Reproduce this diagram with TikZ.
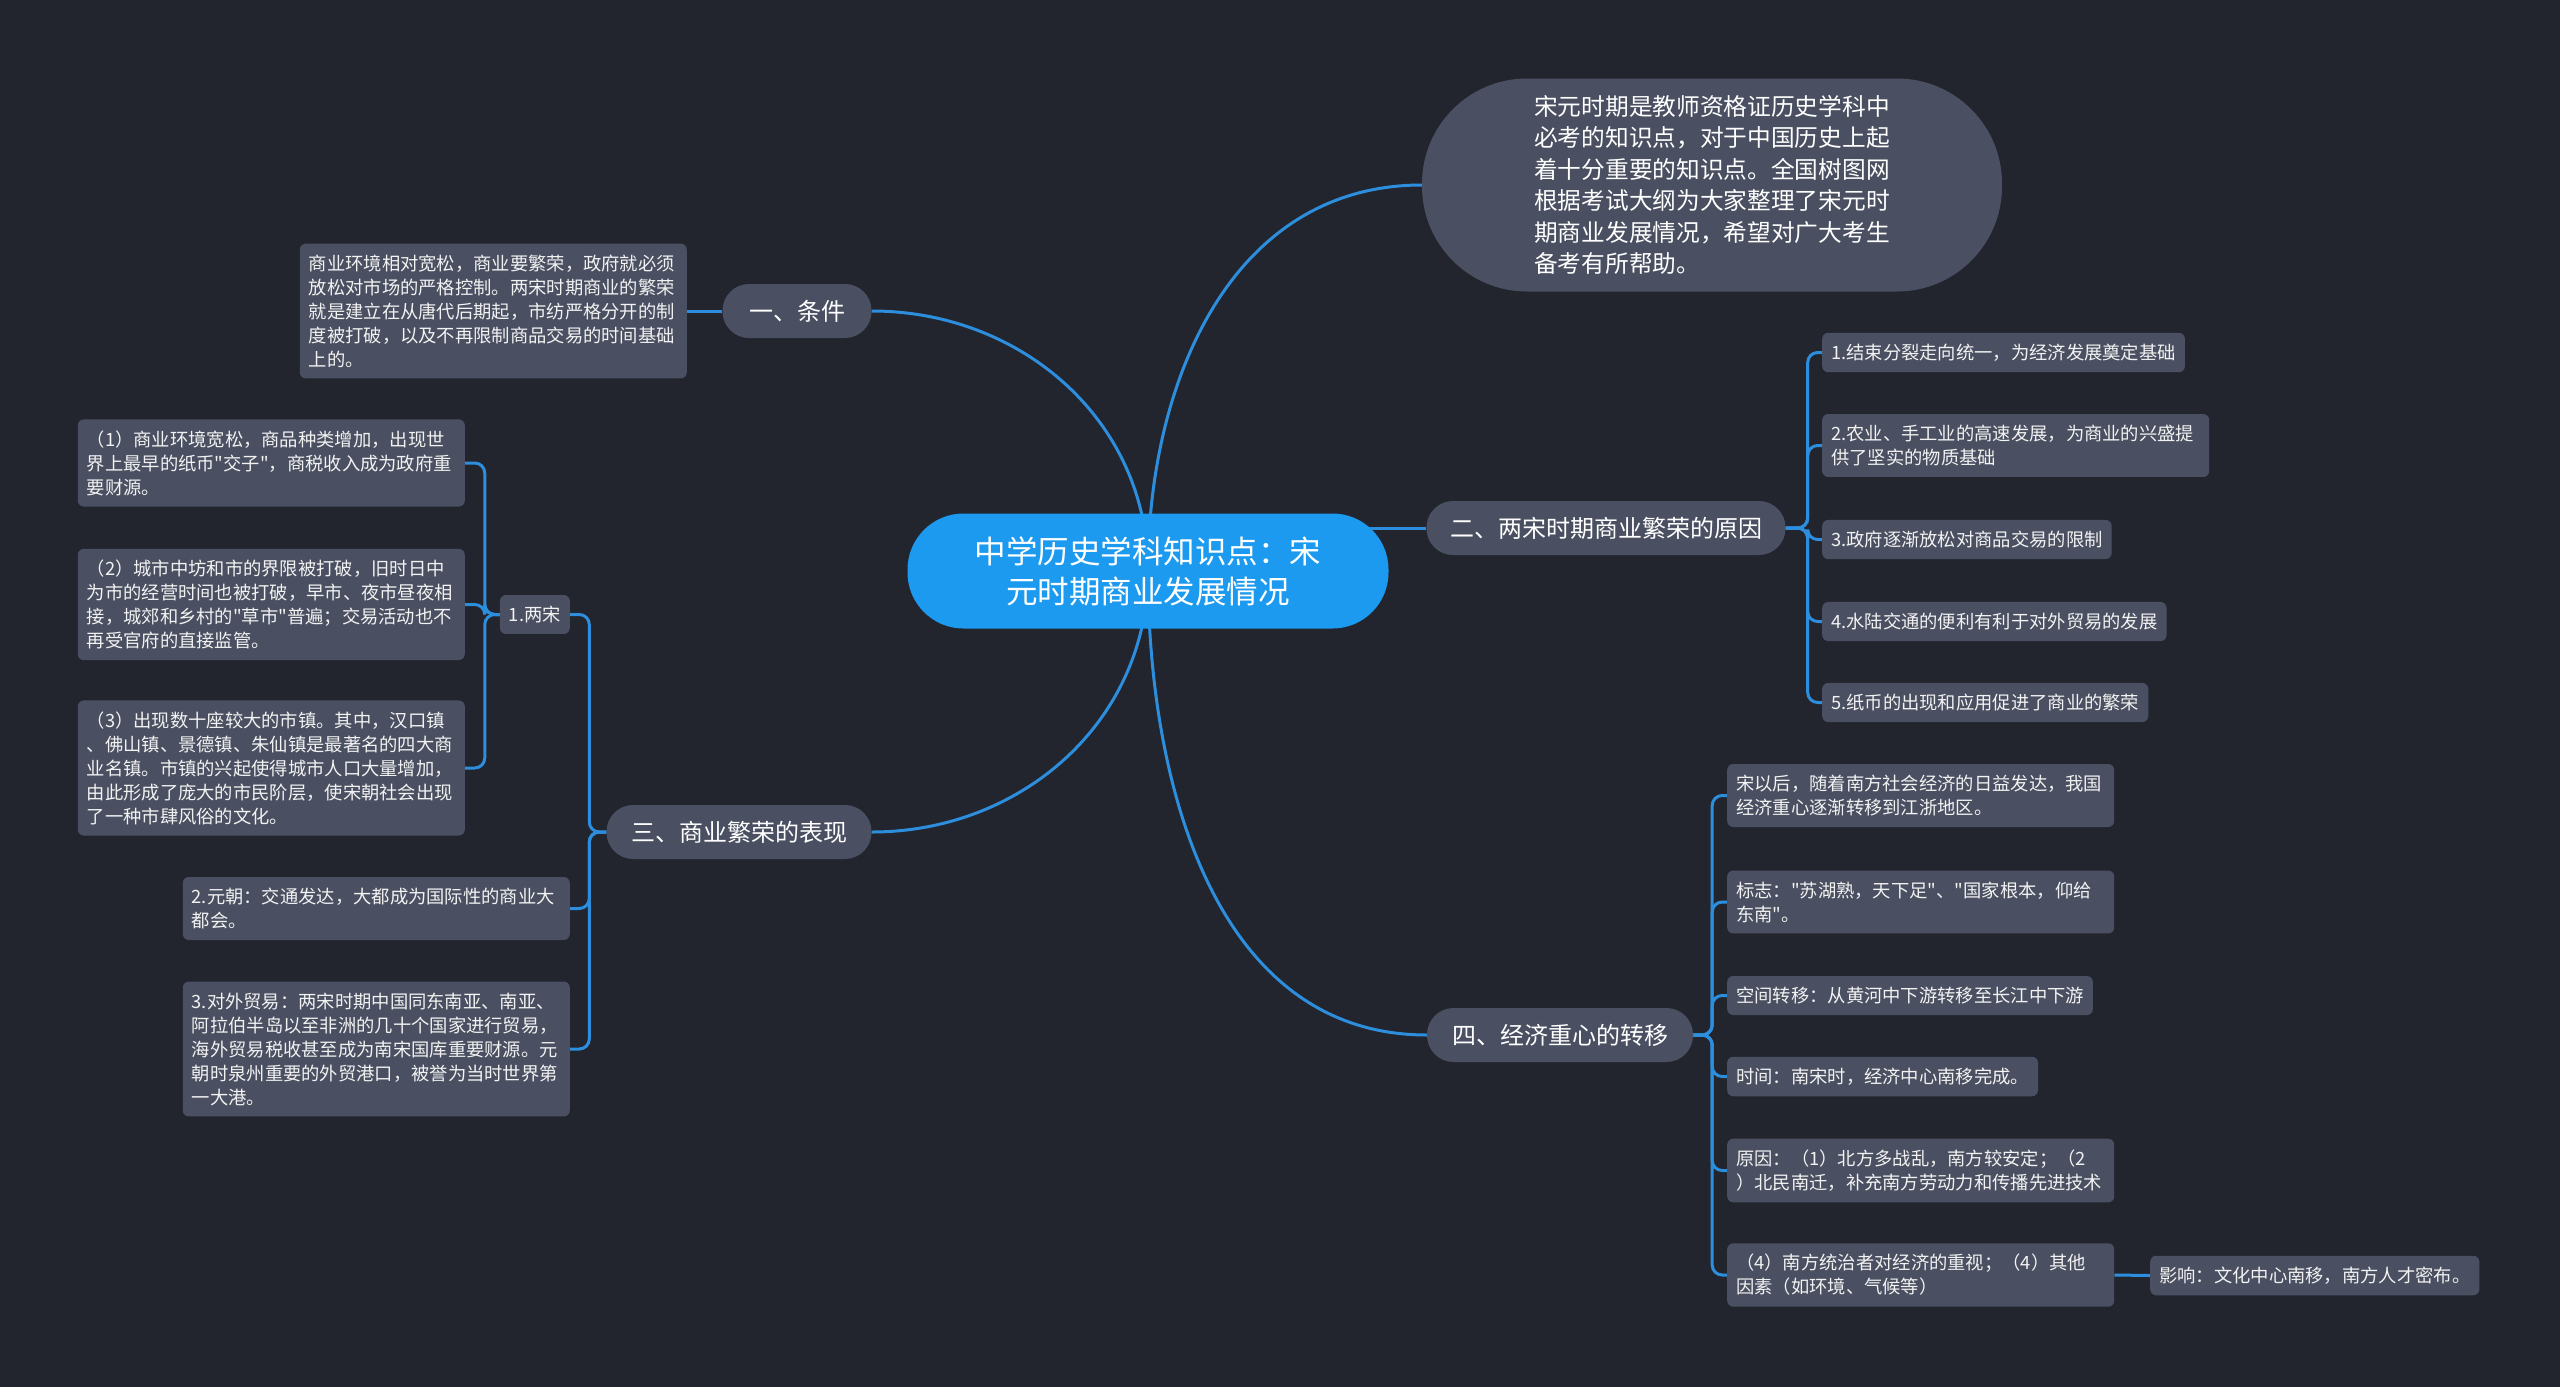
\documentclass[tikz,border=0pt]{standalone}
\usepackage{fontspec}
\setmainfont{Noto Sans CJK SC}[Ligatures=TeXOff]

\definecolor{bgdark}{HTML}{22252E}
\definecolor{boxgray}{HTML}{4A5061}
\definecolor{mainblue}{HTML}{1C9AEF}
\definecolor{linkblue}{HTML}{2C8EDC}
\definecolor{leaftext}{HTML}{F2F2F2}

\pgfdeclarelayer{canvas}
\pgfdeclarelayer{links}
\pgfsetlayers{canvas,links,main}

\begin{document}
\begin{tikzpicture}[x=1pt, y=-1pt,
  rootbox/.style={rectangle, rounded corners=56pt, fill=mainblue, text=white,
    minimum width=481pt, minimum height=115pt, align=center,
    font=\fontsize{31.5}{40}\selectfont},
  introbox/.style={rectangle, rounded corners=105pt, fill=boxgray, text=white,
    minimum width=580pt, minimum height=213pt, align=left,
    font=\fontsize{23.7}{31.5}\selectfont},
  topic/.style={rectangle, rounded corners=26.5pt, fill=boxgray, text=white,
    minimum height=54pt, font=\fontsize{24}{30}\selectfont},
  leaf/.style={rectangle, rounded corners=6pt, fill=boxgray, text=leaftext,
    align=left, inner xsep=9pt, inner ysep=11pt,
    font=\fontsize{18.3}{24}\selectfont},
  wideleaf/.style={leaf, text width=369pt},
  link/.style={draw=linkblue, line width=3pt},
  branch/.style={link, rounded corners=10pt}]

\useasboundingbox (0,0) rectangle (2560,1387);
\begin{pgfonlayer}{canvas}
\fill[bgdark] (0,0) rectangle (2560,1387);
\end{pgfonlayer}

% centre and first level
\node[rootbox] (main) at (1148,571) {中学历史学科知识点：宋\\元时期商业发展情况};
\node[introbox] (intro) at (1712,185) {宋元时期是教师资格证历史学科中\\必考的知识点，对于中国历史上起\\着十分重要的知识点。全国树图网\\根据考试大纲为大家整理了宋元时\\期商业发展情况，希望对广大考生\\备考有所帮助。};
\node[topic, minimum width=149pt] (cond) at (797,311) {一、条件};
\node[topic, minimum width=359pt] (reason) at (1606,528) {二、两宋时期商业繁荣的原因};
\node[topic, minimum width=265pt] (show) at (739,832) {三、商业繁荣的表现};
\node[topic, minimum width=266pt] (shift) at (1560,1035) {四、经济重心的转移};

% 一
\node[wideleaf, anchor=east] (condtxt) at (687,311) {商业环境相对宽松，商业要繁荣，政府就必须\\放松对市场的严格控制。两宋时期商业的繁荣\\就是建立在从唐代后期起，市纺严格分开的制\\度被打破，以及不再限制商品交易的时间基础\\上的。};

% 二
\node[leaf, anchor=west] (r1) at (1822,352.5) {1.结束分裂走向统一，为经济发展奠定基础};
\node[wideleaf, anchor=west] (r2) at (1822,445.5) {2.农业、手工业的高速发展，为商业的兴盛提\\供了坚实的物质基础};
\node[leaf, anchor=west] (r3) at (1822,539.5) {3.政府逐渐放松对商品交易的限制};
\node[leaf, anchor=west] (r4) at (1822,621.5) {4.水陆交通的便利有利于对外贸易的发展};
\node[leaf, anchor=west] (r5) at (1822,702.5) {5.纸币的出现和应用促进了商业的繁荣};

% 三
\node[leaf, anchor=east] (s1) at (570,614.5) {1.两宋};
\node[wideleaf, anchor=east] (s2) at (570,908.5) {2.元朝：交通发达，大都成为国际性的商业大\\都会。};
\node[wideleaf, anchor=east] (s3) at (570,1049) {3.对外贸易：两宋时期中国同东南亚、南亚、\\阿拉伯半岛以至非洲的几十个国家进行贸易，\\海外贸易税收甚至成为南宋国库重要财源。元\\朝时泉州重要的外贸港口，被誉为当时世界第\\一大港。};
\node[wideleaf, anchor=east] (a1) at (465,463) {（1）商业环境宽松，商品种类增加，出现世\\界上最早的纸币"交子"，商税收入成为政府重\\要财源。};
\node[wideleaf, anchor=east] (a2) at (465,604.5) {（2）城市中坊和市的界限被打破，旧时日中\\为市的经营时间也被打破，早市、夜市昼夜相\\接，城郊和乡村的"草市"普遍；交易活动也不\\再受官府的直接监管。};
\node[wideleaf, anchor=east] (a3) at (465,768) {（3）出现数十座较大的市镇。其中，汉口镇\\、佛山镇、景德镇、朱仙镇是最著名的四大商\\业名镇。市镇的兴起使得城市人口大量增加，\\由此形成了庞大的市民阶层，使宋朝社会出现\\了一种市肆风俗的文化。};

% 四
\node[wideleaf, anchor=west] (f1) at (1727,795.5) {宋以后，随着南方社会经济的日益发达，我国\\经济重心逐渐转移到江浙地区。};
\node[wideleaf, anchor=west] (f2) at (1727,902) {标志："苏湖熟，天下足"、"国家根本，仰给\\东南"。};
\node[leaf, anchor=west] (f3) at (1727,995.5) {空间转移：从黄河中下游转移至长江中下游};
\node[leaf, anchor=west] (f4) at (1727,1076.5) {时间：南宋时，经济中心南移完成。};
\node[wideleaf, anchor=west] (f5) at (1727,1170.5) {原因：（1）北方多战乱，南方较安定；（2\\）北民南迁，补充南方劳动力和传播先进技术};
\node[wideleaf, anchor=west] (f6) at (1727,1275) {（4）南方统治者对经济的重视；（4）其他\\因素（如环境、气候等）};
\node[leaf, anchor=west] (f7) at (2150,1275.5) {影响：文化中心南移，南方人才密布。};

\begin{pgfonlayer}{links}
% main branches
\draw[link] (main.center) .. controls +(0,-190) and +(-190,0) .. (intro.west);
\draw[link] (main.center) .. controls +(0,-150) and +(150,0) .. (cond.east);
\draw[link] (main.center |- reason.west) -- (reason.west);
\draw[link] (main.center) .. controls +(0,150) and +(150,0) .. (show.east);
\draw[link] (main.center) .. controls +(0,212) and +(-212,0) .. (shift.west);
% sub branches
\draw[link] (cond.west) -- (condtxt.east);
\foreach \n in {r1,r2,r3,r4,r5}
  \draw[branch] (reason.east) -- ++(22,0) |- (\n.west);
\foreach \n in {s1,s2,s3}
  \draw[branch] (show.west) -- ++(-17,0) |- (\n.east);
\foreach \n in {a1,a2,a3}
  \draw[branch] (s1.west) -- ++(-15,0) |- (\n.east);
\foreach \n in {f1,f2,f3,f4,f5,f6}
  \draw[branch] (shift.east) -- ++(19,0) |- (\n.west);
\draw[link] (f6.east) -- (f7.west);
\end{pgfonlayer}
\end{tikzpicture}
\end{document}
